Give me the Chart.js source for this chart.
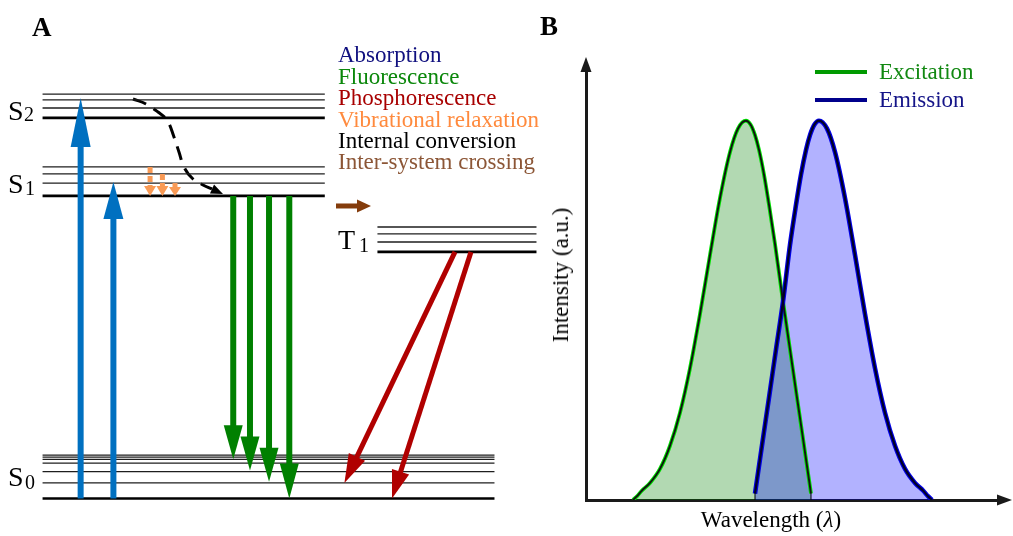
<!DOCTYPE html>
<html lang="en">
<head>
<meta charset="utf-8">
<title>Jablonski diagram and excitation / emission spectra</title>
<script src="https://cdn.jsdelivr.net/npm/chart.js@4.4.1/dist/chart.umd.min.js"></script>
<style>
  html, body { margin: 0; padding: 0; background: #fff; }
  #fig { position: relative; width: 1013px; height: 536px; overflow: hidden;
         font-family: "Liberation Serif", "Times New Roman", serif; color: #000; }
  #fig canvas { position: absolute; top: 0; }
  #chartA { left: 0; }
  #chartB { left: 560px; }
  .lbl { position: absolute; line-height: 0; white-space: nowrap; }
  .key { position: absolute; height: 4px; width: 52px; }
  .ytitle { position: absolute; white-space: nowrap; font-size: 23px;
            transform: translate(-50%, -50%) rotate(-90deg); }
</style>
</head>
<body>
<div id="fig">
  <canvas id="chartA" width="560" height="536"></canvas>
  <canvas id="chartB" width="453" height="536"></canvas>
</div>
<script>
// ---- panel A: Jablonski diagram (energy in arbitrary units, x position 0..100) ----
const s2Levels = [71.0, 72.85, 74.35, 75.45];
const s1Levels = [56.45, 58.85, 60.55, 61.85];
const t1Levels = [46.0, 47.85, 49.35, 50.65];
const s0Levels = [0, 2.9, 5.0, 6.6, 7.3, 7.7, 8.1];
const singletSpan = [7.6, 58.0];
const tripletSpan = [67.4, 95.8];
const groundSpan = [7.6, 88.3];

// [x, from, to]
const absorption = [[14.4, 0, 74.7], [20.25, 0, 59.05]];
const fluorescence = [[41.65, 56.45, 7.3], [44.64, 56.45, 5.2], [48.04, 56.45, 3.1], [51.66, 56.45, 0]];
const vibrational = [[26.8, 61.85, 56.45], [29.0, 60.55, 56.45], [31.25, 58.85, 56.45]];
// [x0, from, x1, to]
const phosphorescence = [[81.25, 46.0, 61.5, 2.9], [84.1, 46.0, 70.0, 0]];
// [x0, x1, level]
const crossing = [60.0, 66.25, 54.57];
// internal conversion S2 -> S1 (dashed curve)
const internalX = [23.75, 26.07, 28.21, 29.82, 31.07, 31.96, 32.86, 34.29, 36.25, 37.86];
const internalE = [74.53, 73.6, 72.1, 70.61, 67.44, 64.64, 61.84, 59.79, 58.49, 57.74];

const processNames = ['Absorption', 'Fluorescence', 'Phosphorescence', 'Vibrational relaxation', 'Internal conversion', 'Inter-system crossing'];
const processColors = ['#10107f', '#0a870a', '#a80000', '#ff8a3d', '#000000', '#8c5636'];

// ---- panel B: spectra (x = wavelength, arbitrary 0..100; intensity normalised) ----
const excitationX = [11.41, 12.38, 13.59, 15.53, 17.96, 20.39, 22.82, 25.24, 27.67, 30.10, 32.52, 34.95, 36.89, 38.83, 39.93, 41.02, 41.99, 43.20, 44.42, 45.87, 47.82, 49.51, 51.21, 52.91, 54.61];
const excitationY = [0, 0.01, 0.025, 0.045, 0.082, 0.143, 0.23, 0.347, 0.49, 0.646, 0.796, 0.917, 0.979, 1.0, 0.99, 0.962, 0.923, 0.858, 0.778, 0.675, 0.523, 0.397, 0.27, 0.144, 0.017];
const emissionX = [41.02, 42.72, 44.42, 46.12, 47.82, 49.51, 50.97, 52.18, 53.40, 54.37, 55.46, 56.55, 58.50, 60.44, 62.86, 65.29, 67.72, 70.15, 72.57, 75.00, 77.43, 79.85, 81.80, 83.01, 83.98];
const emissionY = [0.017, 0.144, 0.27, 0.397, 0.523, 0.672, 0.778, 0.858, 0.923, 0.962, 0.99, 1.0, 0.979, 0.917, 0.796, 0.646, 0.49, 0.347, 0.23, 0.143, 0.082, 0.045, 0.025, 0.01, 0];
const spectrumNames = ['Excitation', 'Emission'];

const arrowStyles = {
  absorption: { color: '#0070c0', width: 6, headLen: [49, 37], headW: 20 },
  fluorescence: { color: '#008000', width: 6, headLen: [34, 34, 34, 35], headW: 19 },
  phosphorescence: { color: '#b00000', width: 5, headLen: [29, 28], headW: 18 },
  vibrational: { color: '#f99a55', width: 5, headLen: [10, 10, 9], headW: 12, dash: [6, 3] },
  crossing: { color: '#843c0c', width: 5, headLen: [14], headW: 13 },
  internal: { color: '#000', headLen: 12, headW: 10 }
};

const fig = document.getElementById('fig');

function addLabel(text, x, baseline, size, color, weight) {
  const el = document.createElement('div');
  el.className = 'lbl';
  el.innerHTML = text;
  el.style.left = x + 'px';
  el.style.top = (baseline - 0.3375 * size) + 'px';
  el.style.fontSize = size + 'px';
  el.style.color = color || '#000';
  if (weight) el.style.fontWeight = weight;
  fig.appendChild(el);
  return el;
}

function drawArrow(ctx, x0, y0, x1, y1, st, headLen) {
  const dx = x1 - x0, dy = y1 - y0, len = Math.hypot(dx, dy);
  const ux = dx / len, uy = dy / len;
  const bx = x1 - ux * headLen, by = y1 - uy * headLen;
  ctx.save();
  ctx.strokeStyle = st.color;
  ctx.fillStyle = st.color;
  if (st.width) {
    ctx.lineWidth = st.width;
    ctx.lineCap = 'butt';
    ctx.setLineDash(st.dash || []);
    ctx.beginPath();
    ctx.moveTo(x0, y0);
    ctx.lineTo(bx + ux, by + uy);
    ctx.stroke();
  }
  ctx.setLineDash([]);
  ctx.beginPath();
  ctx.moveTo(x1, y1);
  ctx.lineTo(bx - uy * st.headW / 2, by + ux * st.headW / 2);
  ctx.lineTo(bx + uy * st.headW / 2, by - ux * st.headW / 2);
  ctx.closePath();
  ctx.fill();
  ctx.restore();
}

const transitions = {
  id: 'transitions',
  afterDatasetsDraw(chart) {
    const { ctx, scales: { x, y } } = chart;
    const px = v => x.getPixelForValue(v), py = v => y.getPixelForValue(v);
    const vert = (list, st) => list.forEach(([xv, a, b], i) =>
      drawArrow(ctx, px(xv), py(a), px(xv), py(b), st, st.headLen[i]));
    vert(absorption, arrowStyles.absorption);
    vert(fluorescence, arrowStyles.fluorescence);
    vert(vibrational, arrowStyles.vibrational);
    phosphorescence.forEach(([xa, a, xb, b], i) =>
      drawArrow(ctx, px(xa), py(a), px(xb), py(b), arrowStyles.phosphorescence, arrowStyles.phosphorescence.headLen[i]));
    drawArrow(ctx, px(crossing[0]), py(crossing[2]), px(crossing[1]), py(crossing[2]), arrowStyles.crossing, arrowStyles.crossing.headLen[0]);

    // head of the internal conversion curve, following its last segment
    const meta = chart.getDatasetMeta(chart.data.datasets.length - 1);
    const pts = meta.data;
    const p1 = pts[pts.length - 2], p2 = pts[pts.length - 1];
    const st = arrowStyles.internal;
    const d = Math.hypot(p2.x - p1.x, p2.y - p1.y);
    const tx = p2.x + (p2.x - p1.x) / d * st.headLen, ty = p2.y + (p2.y - p1.y) / d * st.headLen;
    drawArrow(ctx, p2.x, p2.y, tx, ty, { color: st.color, headW: st.headW }, st.headLen);
  }
};

function levelSets(levels, span) {
  return levels.map((e, i) => ({
    data: [{ x: span[0], y: e }, { x: span[1], y: e }],
    showLine: true,
    borderColor: i === 0 ? '#000' : '#1e1e1e',
    borderWidth: i === 0 ? 2.6 : 1.3
  }));
}

new Chart(document.getElementById('chartA'), {
  type: 'scatter',
  data: {
    datasets: [
      ...levelSets(s2Levels, singletSpan),
      ...levelSets(s1Levels, singletSpan),
      ...levelSets(t1Levels, tripletSpan),
      ...levelSets(s0Levels, groundSpan),
      {
        label: 'Internal conversion',
        data: internalX.map((xv, i) => ({ x: xv, y: internalE[i] })),
        showLine: true, borderColor: '#000', borderWidth: 3, borderDash: [14, 9], tension: 0.4
      }
    ]
  },
  options: {
    responsive: false, animation: false, events: [],
    layout: { padding: 0 },
    elements: { point: { radius: 0 }, line: { borderCapStyle: 'butt' } },
    plugins: { legend: { display: false }, tooltip: { enabled: false } },
    scales: {
      x: { type: 'linear', min: 0, max: 100, display: false },
      y: { type: 'linear', min: -7, max: 93, display: false }
    }
  },
  plugins: [transitions]
});

const axisArrows = {
  id: 'axisArrows',
  afterDraw(chart) {
    const { ctx, chartArea: { left, right, top, bottom } } = chart;
    ctx.save();
    ctx.fillStyle = '#1a1a1a';
    ctx.beginPath();
    ctx.moveTo(left, top - 14); ctx.lineTo(left - 5.5, top + 1); ctx.lineTo(left + 5.5, top + 1);
    ctx.closePath(); ctx.fill();
    ctx.beginPath();
    ctx.moveTo(right + 14, bottom); ctx.lineTo(right - 1, bottom - 5.5); ctx.lineTo(right - 1, bottom + 5.5);
    ctx.closePath(); ctx.fill();
    ctx.restore();
  }
};

const excPts = excitationX.map((x, i) => ({ x, y: excitationY[i] }));
const emPts = emissionX.map((x, i) => ({ x, y: emissionY[i] }));
const lastExc = excPts[excPts.length - 1], firstEm = emPts[0];

new Chart(document.getElementById('chartB'), {
  type: 'scatter',
  data: {
    datasets: [
      { label: spectrumNames[0], data: excPts, showLine: true, borderColor: '#00e000', borderWidth: 3.8,
        fill: 'origin', backgroundColor: 'rgba(0,128,0,0.3)', cubicInterpolationMode: 'monotone', order: 4 },
      { label: spectrumNames[1], data: emPts, showLine: true, borderColor: '#0000e6', borderWidth: 4.6,
        fill: 'origin', backgroundColor: 'rgba(0,0,255,0.3)', cubicInterpolationMode: 'monotone', order: 3 },
      { data: excPts, showLine: true, borderColor: '#111', borderWidth: 1.9, cubicInterpolationMode: 'monotone', order: 2 },
      { data: emPts, showLine: true, borderColor: '#000028', borderWidth: 2.3, cubicInterpolationMode: 'monotone', order: 1 },
      { data: [{ x: lastExc.x, y: 0 }, lastExc], showLine: true, borderColor: '#000', borderWidth: 1, order: 0 },
      { data: [{ x: firstEm.x, y: 0 }, firstEm], showLine: true, borderColor: '#000', borderWidth: 1, order: 0 }
    ]
  },
  options: {
    responsive: false, animation: false, events: [],
    layout: { padding: { left: 26, right: 15, top: 71, bottom: 36 } },
    elements: { point: { radius: 0 } },
    plugins: { legend: { display: false }, tooltip: { enabled: false }, filler: { drawTime: 'beforeDatasetsDraw' } },
    scales: {
      x: { type: 'linear', min: 0, max: 100, ticks: { display: false },
           grid: { display: false, drawTicks: false }, border: { color: '#1a1a1a', width: 3 } },
      y: { type: 'linear', min: 0, max: 1.131, ticks: { display: false },
           grid: { display: false, drawTicks: false }, border: { color: '#1a1a1a', width: 3 } }
    }
  },
  plugins: [axisArrows]
});

// ---- text ----
addLabel('A', 32, 36.5, 27, '#000', 'bold');
addLabel('B', 540, 35.5, 27, '#000', 'bold');

const legendBaselines = [63, 84.5, 106, 128, 149, 170];
processNames.forEach((name, i) => addLabel(name, 338, legendBaselines[i], 23, processColors[i]));

// state labels: [letter, index, left, baseline, subLeft, subBaseline]
const stateLabels = [
  ['S', '2', 8, 120.5, 24, 120.5],
  ['S', '1', 8, 193.5, 25, 195],
  ['T', '1', 338, 249.5, 359, 252],
  ['S', '0', 8, 486, 25, 489]
];
stateLabels.forEach(([l, n, x, b, sx, sb]) => {
  addLabel(l, x, b, 28);
  addLabel(n, sx, sb, 20);
});

// spectra legend
const keyColors = ['#009a00', '#00008c'];
const keyTextColors = ['#118811', '#141488'];
spectrumNames.forEach((name, i) => {
  const k = document.createElement('div');
  k.className = 'key';
  k.style.left = '815px';
  k.style.top = (70 + i * 28) + 'px';
  k.style.background = keyColors[i];
  fig.appendChild(k);
  addLabel(name, 879, 80 + i * 28, 23, keyTextColors[i]);
});

const yt = document.createElement('div');
yt.className = 'ytitle';
yt.textContent = 'Intensity (a.u.)';
yt.style.left = '561px';
yt.style.top = '275px';
fig.appendChild(yt);

const xt = addLabel('Wavelength (<i>λ</i>)', 771, 528, 23);
xt.style.transform = 'translateX(-50%)';
</script>
</body>
</html>
